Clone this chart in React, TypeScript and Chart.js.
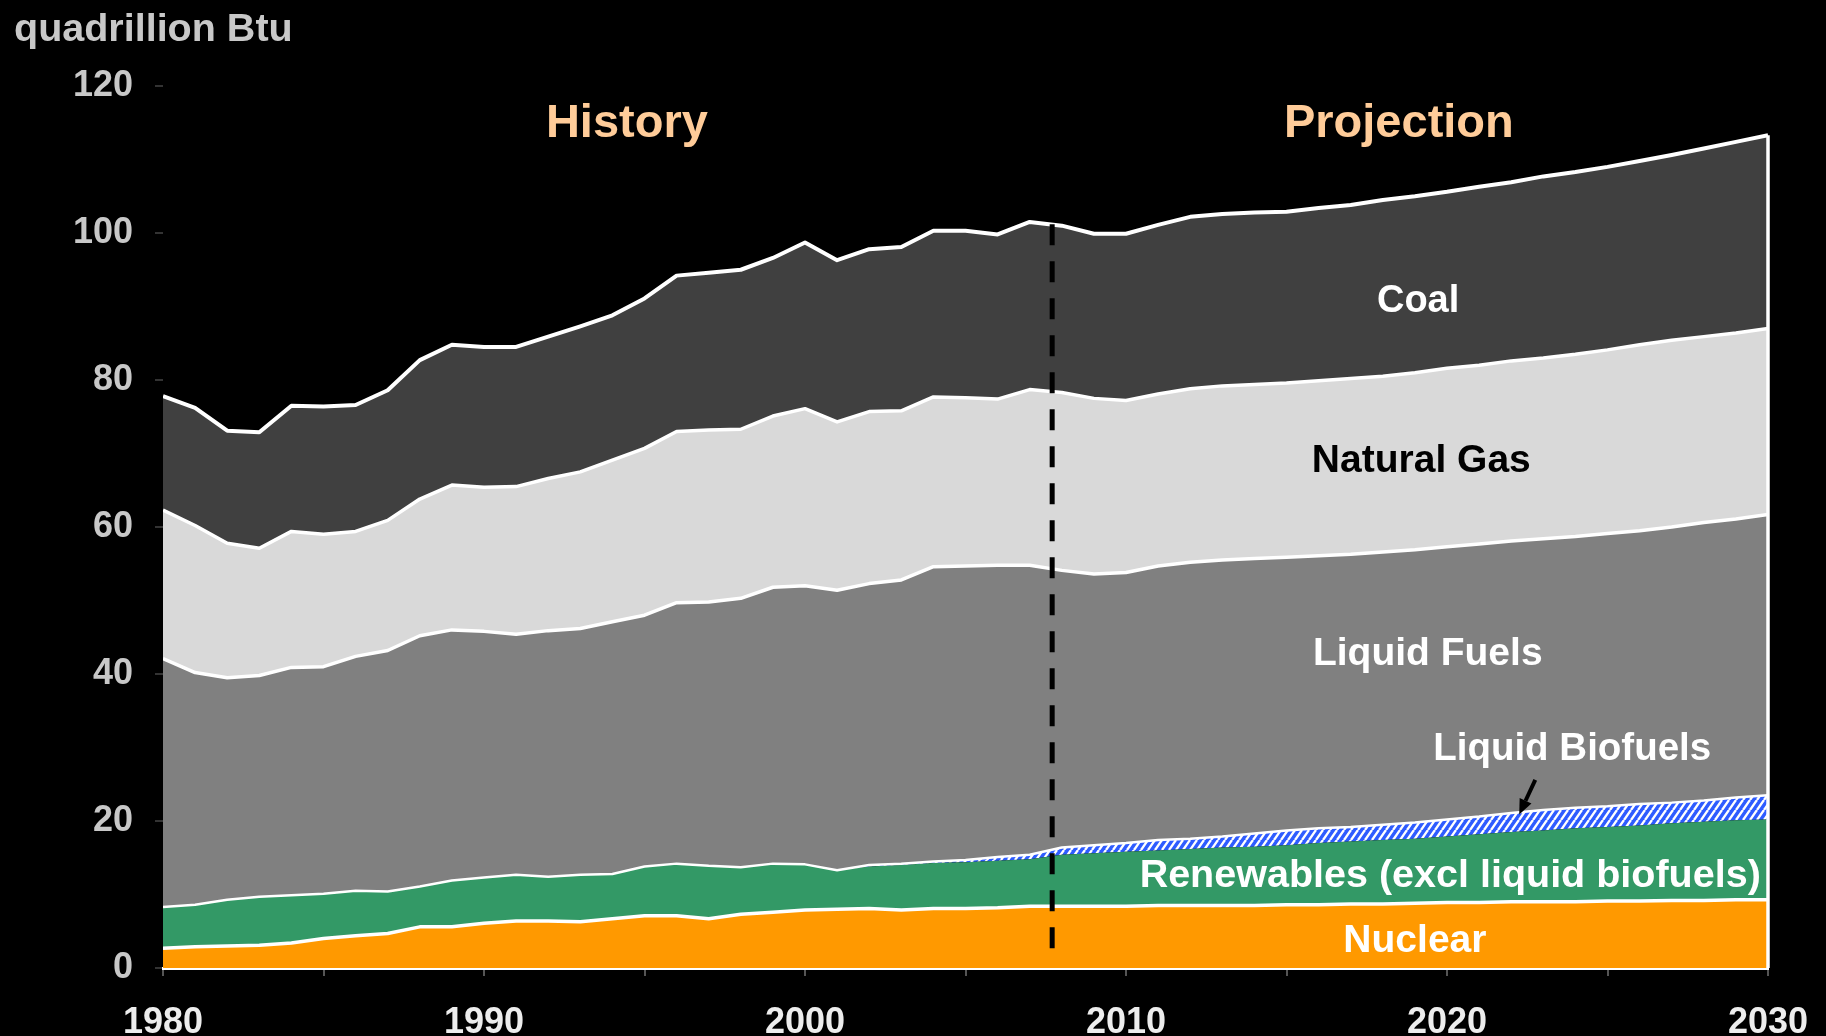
import React, { useEffect, useRef } from 'react';
import { Chart, registerables } from 'chart.js';

Chart.register(...registerables);

// ---- Data (quadrillion Btu) ----
const years = [
  1980, 1981, 1982, 1983, 1984, 1985, 1986, 1987, 1988, 1989,
  1990, 1991, 1992, 1993, 1994, 1995, 1996, 1997, 1998, 1999,
  2000, 2001, 2002, 2003, 2004, 2005, 2006, 2007, 2008, 2009,
  2010, 2011, 2012, 2013, 2014, 2015, 2016, 2017, 2018, 2019,
  2020, 2021, 2022, 2023, 2024, 2025, 2026, 2027, 2028, 2029, 2030,
];

const nuclear = [
  2.7, 2.9, 3.0, 3.1, 3.4, 4.0, 4.4, 4.7, 5.6, 5.6,
  6.1, 6.4, 6.4, 6.3, 6.7, 7.1, 7.1, 6.7, 7.3, 7.6,
  7.9, 8.0, 8.1, 7.9, 8.1, 8.1, 8.2, 8.4, 8.4, 8.4,
  8.4, 8.5, 8.5, 8.5, 8.5, 8.6, 8.6, 8.7, 8.7, 8.8,
  8.9, 8.9, 9.0, 9.0, 9.0, 9.1, 9.1, 9.2, 9.2, 9.3, 9.3,
];

const renewables = [
  5.6, 5.7, 6.3, 6.6, 6.5, 6.1, 6.1, 5.7, 5.5, 6.3,
  6.2, 6.3, 6.0, 6.4, 6.1, 6.7, 7.1, 7.2, 6.4, 6.6,
  6.2, 5.3, 5.7, 6.1, 6.2, 6.3, 6.4, 6.4, 7.0, 7.2,
  7.4, 7.5, 7.7, 7.9, 8.0, 8.1, 8.4, 8.5, 8.7, 8.8,
  9.0, 9.3, 9.5, 9.7, 10.0, 10.1, 10.3, 10.5, 10.7, 10.8, 10.9,
];

const liquidBiofuels = [
  0, 0, 0, 0, 0, 0, 0, 0, 0, 0,
  0, 0, 0, 0, 0, 0, 0, 0, 0, 0,
  0, 0, 0.2, 0.2, 0.2, 0.3, 0.5, 0.6, 1.0, 1.1,
  1.2, 1.4, 1.4, 1.5, 1.8, 2.0, 2.0, 2.0, 2.1, 2.2,
  2.3, 2.4, 2.6, 2.8, 2.8, 2.8, 2.9, 2.8, 2.9, 3.1, 3.3,
];

const liquidFuels = [
  33.8, 31.6, 30.2, 30.1, 31.0, 30.9, 31.9, 32.8, 34.1, 34.1,
  33.5, 32.7, 33.5, 33.5, 34.3, 34.2, 35.5, 35.9, 36.6, 37.6,
  37.9, 38.1, 38.3, 38.6, 40.1, 40.0, 39.7, 39.4, 37.7, 36.9,
  36.8, 37.3, 37.6, 37.6, 37.4, 37.2, 37.1, 37.1, 37.1, 37.1,
  37.1, 37.1, 37.0, 36.9, 36.9, 37.1, 37.2, 37.5, 37.8, 37.9, 38.2,
];

const naturalGas = [
  20.2, 20.0, 18.3, 17.3, 18.5, 18.0, 17.0, 17.7, 18.6, 19.7,
  19.6, 20.1, 20.7, 21.3, 22.0, 22.7, 23.3, 23.4, 23.0, 23.3,
  24.1, 22.9, 23.4, 23.0, 23.1, 22.9, 22.6, 23.9, 24.2, 23.9,
  23.4, 23.4, 23.6, 23.7, 23.7, 23.7, 23.8, 23.9, 23.9, 24.1,
  24.3, 24.3, 24.5, 24.6, 24.8, 25.0, 25.3, 25.4, 25.3, 25.3, 25.3,
];

const coal = [
  15.5, 16.0, 15.3, 15.8, 17.1, 17.4, 17.2, 17.7, 18.9, 19.1,
  19.1, 19.0, 19.3, 19.8, 19.7, 20.4, 21.2, 21.4, 21.7, 21.5,
  22.6, 22.0, 22.1, 22.3, 22.6, 22.7, 22.4, 22.8, 22.7, 22.4,
  22.7, 23.0, 23.4, 23.4, 23.4, 23.3, 23.5, 23.6, 24.0, 24.0,
  24.0, 24.3, 24.3, 24.7, 24.8, 24.9, 25.0, 25.2, 25.6, 26.0, 26.3,
];

const xTickLabels = [1980, 1990, 2000, 2010, 2020, 2030];
const yTickValues = [0, 20, 40, 60, 80, 100, 120];
const historyEndYear = 2007.7;
const unitLabel = 'quadrillion Btu';

// Text annotations (positions in data coordinates: year, value at baseline)
const annotations = [
  { text: 'History', x: 1994.45, y: 113.1, color: '#FFCC99', size: 47 },
  { text: 'Projection', x: 2018.5, y: 113.1, color: '#FFCC99', size: 47 },
  { text: 'Coal', x: 2019.1, y: 89.3, color: '#FFFFFF', size: 38 },
  { text: 'Natural Gas', x: 2019.2, y: 67.5, color: '#000000', size: 39 },
  { text: 'Liquid Fuels', x: 2019.4, y: 41.2, color: '#FFFFFF', size: 39 },
  { text: 'Liquid Biofuels', x: 2023.9, y: 28.3, color: '#FFFFFF', size: 38.5 },
  { text: 'Renewables (excl liquid biofuels)', x: 2020.1, y: 11.0, color: '#FFFFFF', size: 39.5 },
  { text: 'Nuclear', x: 2019.0, y: 2.2, color: '#FFFFFF', size: 39 },
];
const arrowFrom = { x: 2022.75, y: 25.6 };
const arrowTo = { x: 2022.25, y: 20.9 };

const FONT = '"Liberation Sans", Arial, Helvetica, sans-serif';

const overlayPlugin = {
  id: 'overlay',
  afterDatasetsDraw(chart: any) {
    const { ctx } = chart;
    const xs = chart.scales.x;
    const ys = chart.scales.y;
    const last = years.length - 1;
    const total =
      nuclear[last] + renewables[last] + liquidBiofuels[last] +
      liquidFuels[last] + naturalGas[last] + coal[last];
    ctx.save();
    // right edge outline
    const xr = xs.getPixelForValue(years[last]);
    ctx.strokeStyle = '#FFFFFF';
    ctx.lineWidth = 3.5;
    ctx.beginPath();
    ctx.moveTo(xr, ys.getPixelForValue(0));
    ctx.lineTo(xr, ys.getPixelForValue(total));
    ctx.stroke();

    // history / projection divider
    const xd = xs.getPixelForValue(historyEndYear);
    ctx.strokeStyle = '#000000';
    ctx.lineWidth = 5;
    ctx.setLineDash([21, 16]);
    ctx.beginPath();
    ctx.moveTo(xd, ys.getPixelForValue(101.2));
    ctx.lineTo(xd, ys.getPixelForValue(0.8));
    ctx.stroke();
    ctx.setLineDash([]);

    // arrow
    const ax0 = xs.getPixelForValue(arrowFrom.x);
    const ay0 = ys.getPixelForValue(arrowFrom.y);
    const ax1 = xs.getPixelForValue(arrowTo.x);
    const ay1 = ys.getPixelForValue(arrowTo.y);
    const ang = Math.atan2(ay1 - ay0, ax1 - ax0);
    const headLen = 15;
    const bx = ax1 - headLen * Math.cos(ang);
    const by = ay1 - headLen * Math.sin(ang);
    ctx.strokeStyle = '#000000';
    ctx.fillStyle = '#000000';
    ctx.lineWidth = 4;
    ctx.beginPath();
    ctx.moveTo(ax0, ay0);
    ctx.lineTo(bx, by);
    ctx.stroke();
    ctx.beginPath();
    ctx.moveTo(ax1, ay1);
    ctx.lineTo(bx + 6.5 * Math.sin(ang), by - 6.5 * Math.cos(ang));
    ctx.lineTo(bx - 6.5 * Math.sin(ang), by + 6.5 * Math.cos(ang));
    ctx.closePath();
    ctx.fill();

    // annotations
    ctx.textAlign = 'center';
    ctx.textBaseline = 'alphabetic';
    for (const a of annotations) {
      ctx.font = `bold ${a.size}px ${FONT}`;
      ctx.fillStyle = a.color;
      ctx.fillText(a.text, xs.getPixelForValue(a.x), ys.getPixelForValue(a.y));
    }

    // unit label
    ctx.textAlign = 'left';
    ctx.font = `bold 39.5px ${FONT}`;
    ctx.fillStyle = '#C8C8C8';
    ctx.fillText(unitLabel, 14, 41);
    ctx.restore();
  },
};

function makeHatch(): CanvasPattern | string {
  const w = 7;
  const h = 10;
  const pc = document.createElement('canvas');
  pc.width = w;
  pc.height = h;
  const p = pc.getContext('2d');
  if (!p) return '#3366FF';
  p.fillStyle = '#2E5CFF';
  p.fillRect(0, 0, w, h);
  p.strokeStyle = '#FFFFFF';
  p.lineWidth = 2.4;
  p.beginPath();
  for (const o of [-w, 0, w]) {
    p.moveTo(o, h);
    p.lineTo(o + w, 0);
  }
  p.stroke();
  const pat = p.createPattern(pc, 'repeat');
  return pat || '#3366FF';
}

export default function App() {
  const canvasRef = useRef<HTMLCanvasElement | null>(null);

  useEffect(() => {
    const canvas = canvasRef.current;
    if (!canvas) return;
    const hatch = makeHatch();
    const pts = (arr: number[]) => years.map((yr, i) => ({ x: yr, y: arr[i] }));

    const chart = new Chart(canvas, {
      type: 'line',
      data: {
        datasets: [
          { label: 'Nuclear', data: pts(nuclear), backgroundColor: '#FF9900', borderColor: '#FFFFFF', borderWidth: 3.5, fill: 'origin' },
          { label: 'Renewables (excl liquid biofuels)', data: pts(renewables), backgroundColor: '#339966', borderColor: 'rgba(0,0,0,0)', borderWidth: 0, fill: '-1' },
          { label: 'Liquid Biofuels', data: pts(liquidBiofuels), backgroundColor: hatch as any, borderColor: '#FFFFFF', borderWidth: 2.5, fill: '-1' },
          { label: 'Liquid Fuels', data: pts(liquidFuels), backgroundColor: '#808080', borderColor: '#FFFFFF', borderWidth: 3.5, fill: '-1' },
          { label: 'Natural Gas', data: pts(naturalGas), backgroundColor: '#D9D9D9', borderColor: '#FFFFFF', borderWidth: 3.5, fill: '-1' },
          { label: 'Coal', data: pts(coal), backgroundColor: '#404040', borderColor: '#FFFFFF', borderWidth: 4, fill: '-1' },
        ],
      },
      options: {
        animation: false,
        responsive: false,
        maintainAspectRatio: false,
        events: [],
        elements: {
          point: { radius: 0 },
          line: { tension: 0, borderJoinStyle: 'round' },
        },
        layout: { padding: { left: 0, right: 58, top: 86, bottom: 0 } },
        plugins: {
          legend: { display: false },
          tooltip: { enabled: false },
          filler: { drawTime: 'beforeDatasetsDraw' },
        },
        scales: {
          x: {
            type: 'linear',
            min: 1980,
            max: 2030,
            afterFit: (s: any) => {
              s.height = 68;
              s.paddingLeft = 40;
              s.paddingRight = 40;
            },
            border: { display: true, color: '#FFFFFF', width: 3 },
            grid: { display: true, drawOnChartArea: false, drawTicks: true, tickLength: 8, color: '#555555', lineWidth: 2 },
            ticks: {
              stepSize: 5,
              autoSkip: false,
              maxRotation: 0,
              padding: 25,
              color: '#EDEDED',
              font: { family: FONT, size: 36, weight: 'bold' },
              callback: (v: any) => (xTickLabels.includes(Number(v)) ? String(v) : ''),
            },
          },
          y: {
            stacked: true,
            min: 0,
            max: 120,
            afterFit: (s: any) => { s.width = 163; },
            border: { display: false },
            grid: { display: true, drawOnChartArea: false, drawTicks: true, tickLength: 8, color: '#333333', lineWidth: 2 },
            afterBuildTicks: (s: any) => { s.ticks = yTickValues.map((v) => ({ value: v })); },
            ticks: {
              padding: 22,
              color: '#C8C8C8',
              font: { family: FONT, size: 36, weight: 'bold' },
            },
          },
        },
      },
      plugins: [overlayPlugin],
    } as any);

    return () => chart.destroy();
  }, []);

  return (
    <div style={{ position: 'fixed', left: 0, top: 0, width: 1826, height: 1036, background: '#000000' }}>
      <canvas ref={canvasRef} width={1826} height={1036} style={{ display: 'block', width: 1826, height: 1036 }} />
    </div>
  );
}
